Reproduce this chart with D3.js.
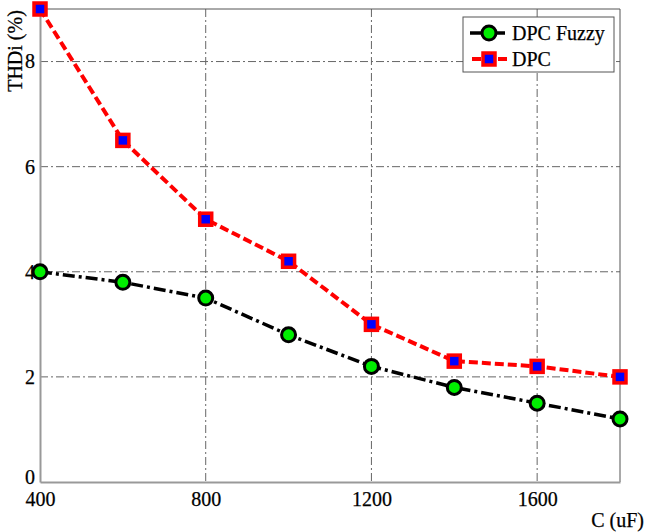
<!DOCTYPE html>
<html><head><meta charset="utf-8">
<script src="https://cdn.jsdelivr.net/npm/d3@7"></script>
<style>body{margin:0;background:#fff}</style>
</head><body>
<svg id="c" width="646" height="532"></svg>
<script>
const capacitance = [400, 600, 800, 1000, 1200, 1400, 1600, 1800];
const dpcFuzzy = [4.0, 3.8, 3.5, 2.8, 2.2, 1.8, 1.5, 1.2];
const dpc = [9.0, 6.5, 5.0, 4.2, 3.0, 2.3, 2.2, 2.0];
const xTicks = [400, 800, 1200, 1600];
const yTicks = [0, 2, 4, 6, 8];
const seriesNames = ["DPC Fuzzy", "DPC"];

const FONT = '"Liberation Serif"';
const FS = "20px";
const svg = d3.select("#c");
const L = 40, R = 620, T = 9, B = 482;
const x = d3.scaleLinear().domain([400, 1800]).range([L, R]);
const y = d3.scaleLinear().domain([0, 9]).range([B, T]);

function styleText(sel) {
  sel.style("font-family", FONT).style("font-size", FS).attr("fill", "#000")
    .attr("stroke", "#000").attr("stroke-width", 0.25);
}

// grid
svg.append("g").selectAll("line").data(xTicks.slice(1)).join("line")
  .attr("x1", d => x(d)).attr("x2", d => x(d)).attr("y1", T).attr("y2", B)
  .attr("stroke", "#666").attr("stroke-width", 1).attr("stroke-dasharray", "8,3,2,3");
svg.append("g").selectAll("line").data(yTicks.slice(1)).join("line")
  .attr("x1", L).attr("x2", R).attr("y1", d => y(d)).attr("y2", d => y(d))
  .attr("stroke", "#666").attr("stroke-width", 1).attr("stroke-dasharray", "8,3,2,3");

// frame
svg.append("line").attr("x1", L).attr("x2", R).attr("y1", T).attr("y2", T).attr("stroke", "#555");
svg.append("line").attr("x1", R).attr("x2", R).attr("y1", T).attr("y2", B).attr("stroke", "#555");

// axes
const xAxis = d3.axisBottom(x).tickValues(xTicks).tickSize(0).tickPadding(10).tickFormat(d3.format("d"));
const gx = svg.append("g").attr("transform", `translate(0,${B})`).call(xAxis);
gx.select(".domain").attr("stroke", "#999").attr("stroke-width", 2);
gx.selectAll("text").call(styleText);
const yAxis = d3.axisLeft(y).tickValues(yTicks).tickSize(0).tickPadding(5);
const gy = svg.append("g").attr("transform", `translate(${L},0)`).call(yAxis);
gy.select(".domain").attr("stroke", "#999").attr("stroke-width", 2);
gy.selectAll("text").call(styleText);
gy.selectAll(".tick").filter(d => d === 0).select("text").attr("dy", "0.05em");

// labels
svg.append("text").attr("transform", "translate(22,51) rotate(-90)").attr("text-anchor", "middle")
  .call(styleText).text("THDi (%)");
svg.append("text").attr("x", 644).attr("y", 527).attr("text-anchor", "end")
  .call(styleText).text("C (uF)");

const line = d3.line().x((d, i) => x(capacitance[i])).y(d => y(d));

svg.append("path").datum(dpcFuzzy).attr("d", line).attr("fill", "none")
  .attr("stroke", "#000").attr("stroke-width", 3.5).attr("stroke-dasharray", "12,4,3,4");
svg.append("path").datum(dpc).attr("d", line).attr("fill", "none")
  .attr("stroke", "#ff0000").attr("stroke-width", 4).attr("stroke-dasharray", "9,4");

svg.append("g").selectAll("circle").data(dpcFuzzy).join("circle")
  .attr("cx", (d, i) => x(capacitance[i])).attr("cy", d => y(d)).attr("r", 7)
  .attr("fill", "#00ee00").attr("stroke", "#000").attr("stroke-width", 3);
svg.append("g").selectAll("rect").data(dpc).join("rect")
  .attr("x", (d, i) => x(capacitance[i]) - 6).attr("y", d => y(d) - 6)
  .attr("width", 12).attr("height", 12)
  .attr("fill", "#0000ff").attr("stroke", "#ff0000").attr("stroke-width", 3.5);

// legend
const lg = svg.append("g");
lg.append("rect").attr("x", 463).attr("y", 17).attr("width", 151).attr("height", 55)
  .attr("fill", "#fff").attr("stroke", "#555").attr("stroke-width", 1);
const ly = [33, 59];
lg.append("line").attr("x1", 470).attr("x2", 508).attr("y1", ly[0]).attr("y2", ly[0])
  .attr("stroke", "#000").attr("stroke-width", 3.5).attr("stroke-dasharray", "12,4,3,4");
lg.append("circle").attr("cx", 489).attr("cy", ly[0]).attr("r", 7)
  .attr("fill", "#00ee00").attr("stroke", "#000").attr("stroke-width", 3);
lg.append("line").attr("x1", 472).attr("x2", 508).attr("y1", ly[1]).attr("y2", ly[1])
  .attr("stroke", "#ff0000").attr("stroke-width", 4).attr("stroke-dasharray", "9,4");
lg.append("rect").attr("x", 483).attr("y", ly[1] - 6).attr("width", 12).attr("height", 12)
  .attr("fill", "#0000ff").attr("stroke", "#ff0000").attr("stroke-width", 3.5);
lg.selectAll("text.l").data(seriesNames).join("text")
  .attr("x", 512).attr("y", (d, i) => ly[i] + 7)
  .call(styleText).text(d => d);
</script>
</body></html>
